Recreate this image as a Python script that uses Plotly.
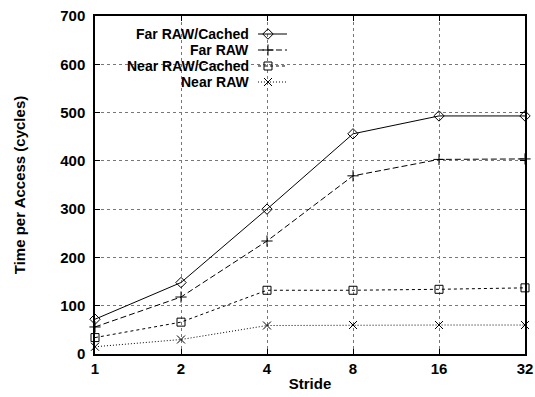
import plotly.graph_objects as go

strides = [1, 2, 4, 8, 16, 32]
far_raw_cached = [72, 148, 300, 456, 493, 493]
far_raw = [56, 118, 234, 369, 403, 404]
near_raw_cached = [34, 66, 132, 132, 134, 137]
near_raw = [15, 30, 59, 60, 60, 60]
y_ticks = [0, 100, 200, 300, 400, 500, 600, 700]

series_names = ["Far RAW/Cached", "Far RAW", "Near RAW/Cached", "Near RAW"]
series_values = [far_raw_cached, far_raw, near_raw_cached, near_raw]
dashes = ["solid", "6px,3px", "3px,3px", "1px,2px"]
symbols = ["diamond-open", "cross-thin", "square-open", "x-thin"]
sizes = [8, 8, 8, 8]

FONT = "Liberation Sans, Arial, sans-serif"

fig = go.Figure()
for name, vals, dash, sym, sz in zip(series_names, series_values, dashes, symbols, sizes):
    fig.add_trace(go.Scatter(
        x=strides, y=vals, name=name, mode="lines+markers",
        line=dict(color="black", width=1, dash=dash),
        marker=dict(symbol=sym, size=sz, color="black", line=dict(color="black", width=1)),
        showlegend=False, cliponaxis=False,
    ))

# custom legend (text right-aligned, sample to the right)
leg_text_x = 0.3605
leg_line_x0, leg_line_x1, leg_mark_x = 0.379, 0.4465, 0.4023
leg_rows_y = [0.9467, 0.8994, 0.8521, 0.8047]
for name, dash, sym, sz, ly in zip(series_names, dashes, symbols, sizes, leg_rows_y):
    fig.add_annotation(x=leg_text_x, y=ly, xref="paper", yref="paper", text="<b>" + name + "</b>",
                       showarrow=False, xanchor="right", yanchor="middle",
                       borderpad=0, font=dict(family=FONT, size=14, color="black"))
    fig.add_shape(type="line", xref="paper", yref="paper", x0=leg_line_x0, x1=leg_line_x1,
                  y0=ly, y1=ly, line=dict(color="black", width=1, dash=dash))
    fig.add_trace(go.Scatter(x=[leg_mark_x], y=[ly], xaxis="x2", yaxis="y2", mode="markers",
                             marker=dict(symbol=sym, size=sz, color="black",
                                         line=dict(color="black", width=1)),
                             showlegend=False, hoverinfo="skip"))

fig.update_layout(
    width=535, height=397,
    margin=dict(l=95, r=10, t=16, b=43, autoexpand=False),
    paper_bgcolor="white", plot_bgcolor="white",
    font=dict(family=FONT, size=15, color="black"),
    xaxis=dict(
        type="log", range=[0, 1.50515], tickvals=strides,
        ticktext=["<b>" + str(s) + "</b>" for s in strides],
        showline=True, linecolor="black", linewidth=1.5, mirror="ticks",
        ticks="inside", ticklen=5, tickcolor="black",
        showgrid=True, gridcolor="#777777", griddash="dot", gridwidth=1,
        zeroline=False,
        title=dict(text="<b>Stride</b>", standoff=3, font=dict(size=15)),
        tickfont=dict(size=15, family=FONT),
        ticklabelstandoff=0,
    ),
    yaxis=dict(
        range=[0, 700], tickvals=y_ticks,
        ticktext=["<b>" + str(v) + "</b>" for v in y_ticks],
        showline=True, linecolor="black", linewidth=1.5, mirror="ticks",
        ticks="inside", ticklen=5, tickcolor="black",
        showgrid=True, gridcolor="#777777", griddash="dot", gridwidth=1,
        zeroline=False,
        title=dict(text="<b>Time per Access (cycles)</b>", standoff=31, font=dict(size=15)),
        tickfont=dict(size=15, family=FONT),
        ticklabelstandoff=5,
    ),
    xaxis2=dict(range=[0, 1], overlaying="x", visible=False, fixedrange=True),
    yaxis2=dict(range=[0, 1], overlaying="y", visible=False, fixedrange=True),
)

fig.write_html("out.html", config={"displayModeBar": False},
               post_script="document.body.style.margin='0';document.body.style.padding='0';")
